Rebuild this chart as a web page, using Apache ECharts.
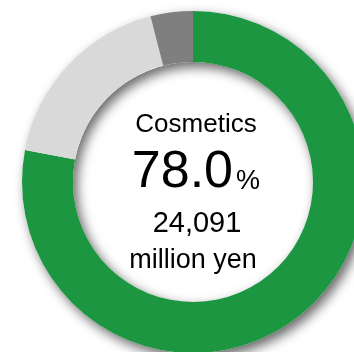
<!DOCTYPE html>
<html>
<head>
<meta charset="utf-8">
<script src="https://cdn.jsdelivr.net/npm/echarts@6/dist/echarts.min.js"></script>
<style>
  html, body { margin: 0; padding: 0; background: #fff; }
  #chart { width: 354px; height: 352px; }
</style>
</head>
<body>
<div id="chart"></div>
<script>
// segment shares (%), clockwise from 12 o'clock
const segments = ['Cosmetics', 'Segment B', 'Segment C']
const shares = [78.0, 18.0, 4.0]
const colors = ['#1d9641', '#d9d9d9', '#7f7f7f']
const headline = 'Cosmetics'
const headlineShare = '78.0'
const headlineAmount = '24,091'
const amountUnit = 'million yen'

const font = '"Liberation Sans", Arial, sans-serif'
const center = [193, 182]
const radius = [120, 171]

const chart = echarts.init(document.getElementById('chart'))
chart.setOption({
  animation: false,
  backgroundColor: '#fff',
  series: [
    {
      // white ring underneath only to cast the soft drop shadow
      type: 'pie',
      silent: true,
      z: 1,
      center,
      radius,
      label: { show: false },
      labelLine: { show: false },
      itemStyle: {
        color: '#fff',
        shadowBlur: 12,
        shadowOffsetX: 4,
        shadowOffsetY: 5,
        shadowColor: 'rgba(0,0,0,0.6)'
      },
      data: [{ value: 1 }]
    },
    {
      type: 'pie',
      z: 2,
      center,
      radius,
      startAngle: 90,
      clockwise: true,
      label: { show: false },
      labelLine: { show: false },
      emphasis: { disabled: true },
      data: segments.map((name, i) => ({
        name,
        value: shares[i],
        itemStyle: { color: colors[i] }
      }))
    }
  ],
  graphic: [
    {
      type: 'text', x: 196, y: 125,
      style: { text: headline, font: '26px ' + font, fill: '#000', align: 'center', verticalAlign: 'middle' }
    },
    {
      type: 'text', x: 233, y: 173,
      style: { text: headlineShare, font: '52px ' + font, fill: '#000', align: 'right', verticalAlign: 'middle' }
    },
    {
      type: 'text', x: 236, y: 182,
      style: { text: '%', font: '27px ' + font, fill: '#000', align: 'left', verticalAlign: 'middle' }
    },
    {
      type: 'text', x: 197, y: 224,
      style: { text: headlineAmount, font: '29px ' + font, fill: '#000', align: 'center', verticalAlign: 'middle' }
    },
    {
      type: 'text', x: 193, y: 261,
      style: { text: amountUnit, font: '27px ' + font, fill: '#000', align: 'center', verticalAlign: 'middle' }
    }
  ]
})
</script>
</body>
</html>
